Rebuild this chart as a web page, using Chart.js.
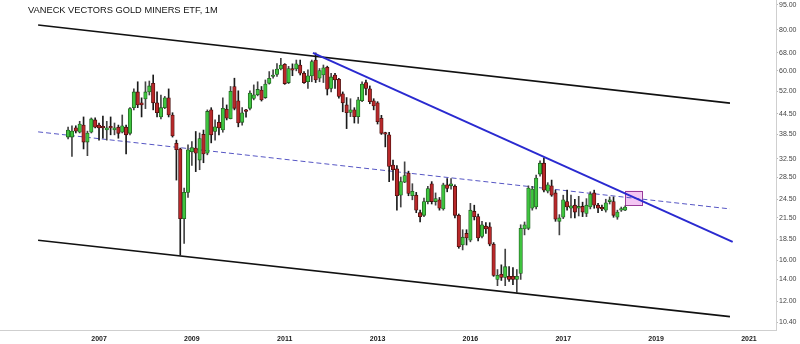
<!DOCTYPE html>
<html><head><meta charset="utf-8">
<script src="https://cdn.jsdelivr.net/npm/chart.js@4/dist/chart.umd.min.js"></script>
<style>
html,body{margin:0;padding:0;background:#fff;}
#wrap{position:relative;width:800px;height:344px;overflow:hidden;}
#title{position:absolute;left:28px;top:5px;font:9.3px "Liberation Sans",Arial,sans-serif;color:#111;white-space:nowrap;}
canvas{display:block;}
</style></head><body>
<div id="wrap"><canvas id="c" width="800" height="344"></canvas><div id="title">VANECK VECTORS GOLD MINERS ETF, 1M</div></div>
<script>
// Monthly candles, first month = May 2006 (index 0)
const firstMonth = '2006-05';
const opens = [
37.8,37.8,40.3,39.1,41.1,36.5,39.1,42.6,41.1,40.5,
39.7,40.5,39.7,40.5,39.1,40.5,38.8,46.4,51.8,48.0,
49.3,51.8,55.0,48.0,43.5,46.4,49.7,44.1,36.2,34.8,
21.4,25.7,34.1,35.0,32.2,38.5,33.8,45.7,39.3,41.9,
39.7,45.9,43.0,53.8,48.7,41.9,45.6,46.2,49.5,50.8,
52.5,49.8,55.0,57.7,58.5,60.8,62.8,55.3,61.0,60.8,
62.5,59.0,55.6,57.9,64.7,57.0,58.3,61.5,53.1,58.3,
56.6,51.1,47.3,44.9,45.7,43.6,48.7,55.3,52.9,48.7,
48.0,43.1,38.8,38.4,31.1,30.3,25.2,27.6,29.4,25.1,
25.2,22.3,21.9,24.1,27.3,24.1,24.4,22.9,27.1,26.9,
26.8,21.9,17.8,19.3,18.4,22.5,21.7,18.9,20.3,20.2,
17.9,14.0,14.5,14.2,14.3,14.3,14.0,14.6,19.9,20.0,
23.0,23.2,29.2,31.5,25.9,26.9,25.6,21.0,21.6,24.1,
23.0,23.5,23.0,23.3,22.2,23.2,25.6,23.5,23.1,22.7,
24.1,24.1,21.6,22.7,22.7];
const highs = [
40.5,40.9,40.9,42.2,43.5,39.4,43.2,43.2,41.7,43.8,
42.2,43.5,41.7,41.1,44.1,41.1,46.4,52.9,55.6,49.7,
55.6,55.9,58.3,51.8,50.7,50.2,52.9,44.8,37.0,35.0,
26.5,35.8,36.6,39.3,38.9,39.7,45.7,46.4,42.6,44.1,
49.7,47.3,53.8,57.0,52.2,46.4,45.9,52.2,54.4,55.6,
53.8,56.3,59.7,60.4,63.1,65.5,63.1,61.9,63.0,64.7,
64.7,59.7,60.4,64.7,68.0,61.0,62.5,62.0,59.0,59.0,
57.0,51.8,49.8,49.4,46.4,49.9,55.6,56.3,54.0,49.4,
48.4,44.0,39.1,39.1,32.2,31.0,28.6,31.8,29.8,27.3,
25.7,22.7,24.7,26.8,27.7,25.6,24.8,27.4,28.3,28.3,
27.1,22.1,19.8,19.8,23.8,23.5,22.1,21.0,20.8,20.8,
18.1,15.0,15.5,17.3,15.3,15.2,15.0,20.5,20.9,26.9,
26.8,29.0,32.0,32.7,27.5,28.0,26.1,22.0,25.2,26.1,
25.2,24.5,25.0,24.0,24.6,25.8,26.1,23.8,23.5,24.5,
24.9,24.9,22.7,23.2,23.4];
const lows = [
37.3,33.0,38.9,38.9,34.8,33.2,38.9,40.3,37.0,37.5,
37.0,38.4,38.4,37.5,38.9,33.6,38.4,45.7,46.4,43.5,
46.1,50.7,45.7,43.5,42.9,46.1,43.5,37.8,28.0,16.6,
18.0,24.8,31.0,29.7,30.1,31.6,33.4,36.3,37.0,38.4,
39.1,42.6,42.9,45.7,40.6,41.1,43.4,45.7,49.0,50.4,
48.6,49.5,54.7,57.0,57.7,60.4,54.6,54.9,58.0,60.0,
58.3,55.0,53.1,55.6,55.3,55.6,55.3,50.7,51.8,53.1,
49.6,45.1,40.1,43.6,41.7,41.6,48.4,50.7,47.7,45.7,
41.4,38.5,35.3,27.7,28.0,22.7,23.2,27.5,25.1,24.4,
22.3,20.9,21.7,23.7,23.7,23.5,22.7,22.7,25.8,26.3,
21.5,17.4,17.2,17.8,18.2,21.2,18.3,18.7,19.3,17.7,
14.3,13.4,13.9,13.4,13.8,13.5,12.8,14.0,19.1,19.8,
22.7,22.9,28.8,25.8,25.6,25.0,21.0,19.1,21.4,22.7,
21.5,21.5,21.8,21.7,21.7,22.9,23.0,22.3,22.6,22.4,
23.7,21.6,21.3,22.5,22.6];
const closes = [
39.7,39.4,39.4,41.4,36.5,38.9,42.9,40.5,40.3,40.3,
40.3,40.3,40.3,38.8,40.9,38.4,46.1,51.8,47.3,47.3,
51.8,54.0,48.0,44.8,46.4,49.7,44.1,38.1,34.6,21.4,
25.7,34.6,35.1,33.8,37.4,33.6,45.2,38.4,40.6,40.3,
46.2,43.1,52.0,46.2,41.7,44.8,45.2,51.4,50.8,52.7,
49.0,54.7,57.0,58.3,60.8,62.5,54.9,61.0,60.3,63.0,
59.0,55.3,58.0,64.0,56.3,60.1,61.3,52.8,57.5,56.3,
50.2,48.0,44.8,45.7,43.6,49.0,54.7,53.1,48.4,47.0,
42.1,38.8,38.6,30.8,30.1,25.1,27.7,28.9,25.5,25.9,
22.7,21.7,24.1,26.4,24.1,24.6,23.0,27.1,26.4,27.3,
21.9,17.6,18.8,18.7,22.7,21.7,18.7,20.5,19.9,17.9,
14.4,14.4,14.2,15.3,14.0,14.0,14.3,20.0,20.5,26.5,
26.3,28.4,31.5,26.1,27.1,25.2,21.3,21.5,24.4,23.2,
23.4,22.4,23.3,22.4,23.5,25.4,23.5,23.0,22.9,23.9,
24.4,21.9,22.4,22.9,23.2];

// axis ticks (x in months since first candle)
const xTickMonths = [8, 32, 56, 80, 104, 128, 152, 176];
const xTickLabels = ['2007','2009','2011','2013','2016','2017','2019','2021'];
const yTickValues = [95, 80, 68, 60, 52, 44.5, 38.5, 32.5, 28.5, 24.5, 21.5, 18.5, 16, 14, 12, 10.4];

// drawn trend lines: [month, price] end points
const upperChannel = [[-7.75, 82.6], [171.1, 47.9]];
const lowerChannel = [[-7.75, 18.4], [171.1, 10.8]];
const midDashed    = [[-7.75, 39.2], [171.1, 22.9]];
const blueTrend    = [[63.3, 68.0], [171.8, 18.2]];
const targetZone   = {fromMonth: 144, toMonth: 148.3, low: 23.5, high: 26.0};

const xMin = -17.6, xMax = 183.0, yMin = 9.837, yMax = 98.37;

const UP = '#3fc43f', UPB = '#1f5f1f', DN = '#b8282a', DNB = '#4a0e0c';
const isUp = i => closes[i] >= opens[i];
const pts = a => a.map(p => ({x: p[0], y: p[1]}));

const zonePlugin = {
  id: 'zone',
  beforeDatasetsDraw(chart) {
    const {ctx, scales: {x, y}} = chart;
    const x0 = x.getPixelForValue(targetZone.fromMonth), x1 = x.getPixelForValue(targetZone.toMonth);
    const y0 = y.getPixelForValue(targetZone.high), y1 = y.getPixelForValue(targetZone.low);
    ctx.save();
    ctx.fillStyle = '#f3c6f3';
    ctx.strokeStyle = '#9a3a9a';
    ctx.lineWidth = 1;
    ctx.fillRect(x0, y0, x1 - x0, y1 - y0);
    ctx.strokeRect(Math.round(x0) + 0.5, Math.round(y0) + 0.5, Math.round(x1 - x0), Math.round(y1 - y0));
    ctx.restore();
  }
};

new Chart(document.getElementById('c'), {
  type: 'bar',
  data: {
    datasets: [
      {type: 'line', data: pts(blueTrend), borderColor: '#2a2ad0', borderWidth: 2, pointRadius: 0, order: 0},
      {type: 'line', data: pts(upperChannel), borderColor: '#111', borderWidth: 1.6, pointRadius: 0, order: 1},
      {type: 'line', data: pts(lowerChannel), borderColor: '#111', borderWidth: 1.6, pointRadius: 0, order: 1},
      {type: 'line', data: pts(midDashed), borderColor: '#5656c4', borderWidth: 1, borderDash: [5, 3], pointRadius: 0, order: 5},
      {data: opens.map((o, i) => ({x: i, y: [opens[i], closes[i]]})), grouped: false, barThickness: 3.5, minBarLength: 1.5,
       backgroundColor: c => isUp(c.dataIndex) ? UP : DN, borderColor: c => isUp(c.dataIndex) ? UPB : DNB,
       borderWidth: 0.8, borderSkipped: false, order: 2},
      {data: lows.map((l, i) => ({x: i, y: [lows[i], highs[i]]})), grouped: false, barThickness: 1,
       backgroundColor: c => isUp(c.dataIndex) ? '#444' : '#1a1a1a', borderWidth: 0, order: 3}
    ]
  },
  options: {
    responsive: false, animation: false, devicePixelRatio: 1,
    layout: {padding: 0},
    plugins: {legend: {display: false}, tooltip: {enabled: false}, title: {display: false}},
    scales: {
      x: {
        type: 'linear', min: xMin, max: xMax, offset: false,
        grid: {display: false},
        border: {display: true, color: '#cfcfcf', width: 1},
        afterBuildTicks: s => { s.ticks = xTickMonths.map(v => ({value: v})); },
        afterFit: s => { s.height = 14; s.paddingLeft = 0; s.paddingRight = 0; },
        ticks: {autoSkip: false, maxRotation: 0, padding: -3, color: '#1a1a1a',
          font: {family: 'Liberation Sans', size: 7, weight: 'bold'},
          callback: v => xTickLabels[xTickMonths.indexOf(v)] ?? ''}
      },
      y: {
        type: 'logarithmic', position: 'right', min: yMin, max: yMax,
        grid: {display: true, drawOnChartArea: false, drawTicks: true, tickLength: 2, color: '#bbb'},
        border: {display: true, color: '#cfcfcf', width: 1},
        afterBuildTicks: s => { s.ticks = yTickValues.map(v => ({value: v})); },
        afterFit: s => { s.width = 24; s.paddingTop = 0; s.paddingBottom = 0; },
        ticks: {autoSkip: false, padding: 1, color: '#444',
          font: {family: 'Liberation Sans', size: 7},
          callback: v => Number(v).toFixed(2)}
      }
    }
  },
  plugins: [zonePlugin]
});
</script>
</body></html>
